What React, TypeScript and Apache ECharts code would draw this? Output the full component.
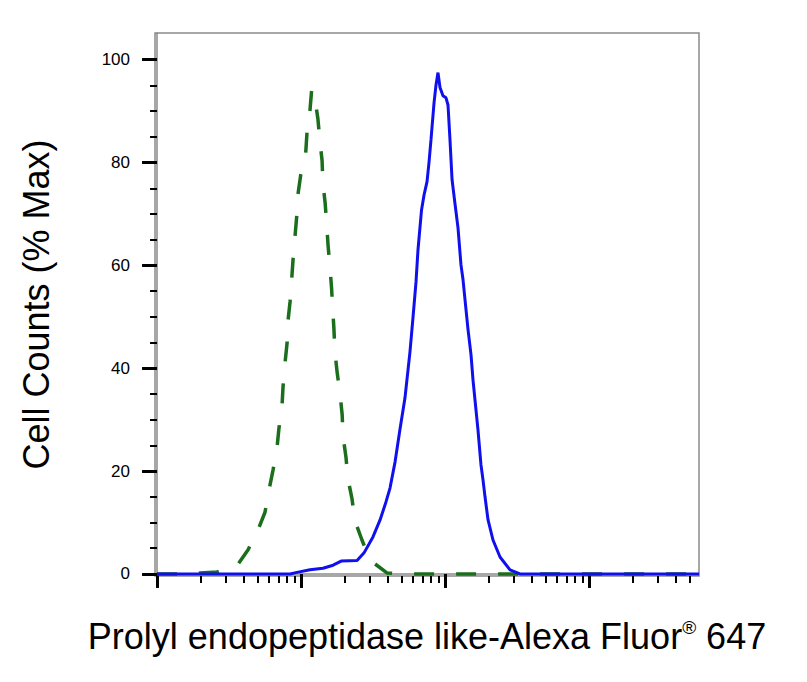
import React, { useEffect, useRef } from "react";
import * as echarts from "echarts";

// fluorescence intensity (log scale) and % max for the two histograms
const greenX = [1, 1.84, 1.99, 2.61, 3.59, 4.29, 5.03, 5.62, 5.99, 6.39, 6.81, 7.03, 7.38, 7.5, 7.74, 8.0, 8.12, 8.39, 8.62, 8.8, 9.08, 9.33, 9.53, 9.95, 10.78, 11.0, 11.55, 11.86, 12.5, 13.1, 13.55, 14.0, 14.2, 14.7, 15.1, 15.4, 15.9, 16.3, 16.6, 16.9, 17.2, 17.8, 18.7, 19.3, 19.6, 20.5, 21.2, 22.6, 23.7, 26.5, 30.1, 39.5, 48.7, 5807];
const greenY = [0, 0, 0.2, 0.4, 1.6, 4.7, 8.6, 12.0, 16.3, 20.2, 24.5, 28.4, 32.7, 36.4, 41.0, 44.9, 49.2, 52.9, 57.4, 61.1, 65.6, 69.5, 73.9, 77.6, 81.9, 85.8, 90.3, 94.2, 92.4, 88.5, 84.0, 80.4, 75.9, 72.2, 67.7, 64.0, 59.5, 55.6, 51.4, 48.0, 43.2, 39.3, 34.8, 31.0, 26.7, 22.8, 18.5, 14.6, 10.3, 6.6, 2.7, 0.2, 0, 0];

const blueX = [1, 6.92, 8.39, 9.38, 11.55, 14.2, 16.7, 19.0, 24.5, 27.4, 31.6, 35.4, 38.9, 41.5, 45.0, 48.7, 52.7, 57.1, 59.9, 62.9, 64.9, 68.7, 71.5, 75.0, 77.4, 79.9, 83.9, 86.6, 89.4, 92.3, 96.8, 101.6, 104.9, 108.3, 111.9, 117.3, 123.1, 129.1, 133.4, 139.9, 144.5, 151.6, 156.5, 164.1, 169.4, 177.8, 183.6, 189.6, 199.0, 215.4, 241.0, 282.7, 331.7, 370.8, 5807];
const blueY = [0, 0, 0, 0.3, 0.8, 1.1, 1.7, 2.5, 2.6, 4.1, 7.2, 10.5, 14.0, 16.7, 21.8, 28.2, 34.2, 43.2, 49.8, 56.8, 63.0, 70.8, 73.7, 76.3, 80.0, 84.4, 91.6, 95.1, 97.5, 94.6, 93.0, 92.6, 91.2, 84.4, 76.7, 72.0, 67.3, 60.1, 57.2, 51.4, 47.5, 42.6, 37.7, 31.9, 28.0, 21.2, 18.3, 15.0, 10.5, 6.6, 3.3, 0.8, 0, 0, 0];

const yLabels = [0, 20, 40, 60, 80, 100];
const yMinor = [5, 10, 15, 25, 30, 35, 45, 50, 55, 65, 70, 75, 85, 90, 95];
const xMajor = [1, 10, 100, 1000];
const xMinor = [2, 3, 4, 5, 6, 7, 8, 9, 20, 30, 40, 50, 60, 70, 80, 90, 200, 300, 400, 500, 600, 700, 800, 900, 2000, 3000, 4000, 5000];

const X_MIN = 0.968;
const X_MAX = 5807;
const Y_MIN = -0.4;
const Y_MAX = 105.2;

const FONT = "'Liberation Sans', Arial, sans-serif";

const tickAxis = (values: number[], len: number, width: number, log: boolean) => ({
  type: "value" as const,
  position: log ? ("bottom" as const) : ("left" as const),
  min: log ? Math.log10(X_MIN) : Y_MIN,
  max: log ? Math.log10(X_MAX) : Y_MAX,
  axisLine: { show: false },
  axisLabel: { show: false },
  splitLine: { show: false },
  axisTick: {
    show: true,
    length: len,
    customValues: log ? values.map((v) => Math.log10(v)) : values,
    lineStyle: { color: "#000", width },
  },
});

const option = {
  animation: false,
  backgroundColor: "#fff",
  grid: {
    left: 155,
    right: 108,
    top: 33,
    bottom: 106,
    show: true,
    borderColor: "#8a8a8a",
    borderWidth: 1.5,
  },
  xAxis: [
    {
      type: "log",
      logBase: 10,
      min: X_MIN,
      max: X_MAX,
      position: "bottom",
      axisLine: { show: true, lineStyle: { color: "#8a8a8a", width: 1.5 } },
      axisTick: { show: false },
      axisLabel: { show: false },
      splitLine: { show: false },
      name: "{t|Prolyl endopeptidase like-Alexa Fluor}{r|®}{t| 647}",
      nameLocation: "middle",
      nameGap: 42,
      nameTextStyle: {
        rich: {
          t: { fontSize: 36, fontFamily: FONT, color: "#000" },
          r: { fontSize: 19, fontFamily: FONT, color: "#000", verticalAlign: "top" },
        },
      },
    },
    tickAxis(xMajor, 14, 3, true),
    tickAxis(xMinor, 7, 2, true),
  ],
  yAxis: [
    {
      type: "value",
      min: Y_MIN,
      max: Y_MAX,
      position: "left",
      axisLine: { show: true, lineStyle: { color: "#8a8a8a", width: 1.5 } },
      axisTick: {
        show: true,
        length: 15,
        customValues: yLabels,
        lineStyle: { color: "#000", width: 3 },
      },
      axisLabel: {
        customValues: yLabels,
        margin: 25,
        fontSize: 17,
        fontFamily: FONT,
        color: "#000",
      },
      splitLine: { show: false },
      name: "Cell Counts (% Max)",
      nameLocation: "middle",
      nameGap: 101,
      nameRotate: 90,
      nameTextStyle: { fontSize: 36, fontFamily: FONT, color: "#000" },
    },
    tickAxis(yMinor, 7, 2, false),
  ],
  series: [
    {
      type: "line",
      xAxisIndex: 0,
      yAxisIndex: 0,
      showSymbol: false,
      data: greenX.map((x, i) => [x, greenY[i]]),
      lineStyle: { color: "#1b6e1b", width: 3.5, type: [20, 22] },
    },
    {
      type: "line",
      xAxisIndex: 0,
      yAxisIndex: 0,
      showSymbol: false,
      data: blueX.map((x, i) => [x, blueY[i]]),
      lineStyle: { color: "#1010ee", width: 3 },
    },
  ],
};

const App = () => {
  const chartRef = useRef<HTMLDivElement>(null);

  useEffect(() => {
    const chart = echarts.init(chartRef.current, null, { renderer: "svg" });
    chart.setOption(option as any);
    return () => {
      chart.dispose();
    };
  }, []);

  return (
    <div
      ref={chartRef}
      style={{ position: "fixed", left: 0, top: 0, width: "807px", height: "682px", background: "#fff" }}
    ></div>
  );
};

export default App;
